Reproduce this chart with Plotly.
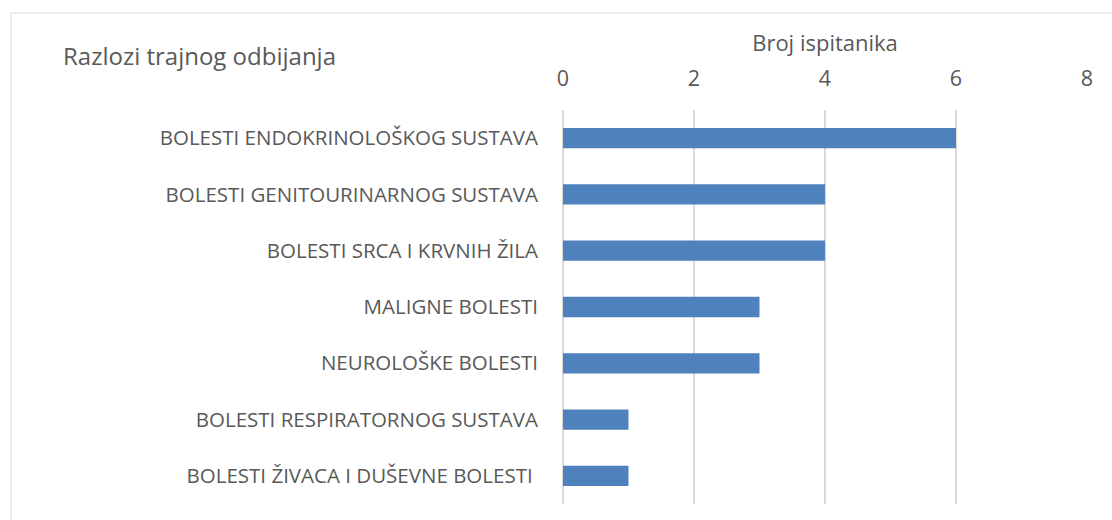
import plotly.graph_objects as go

categories = [
    "BOLESTI ENDOKRINOLOŠKOG SUSTAVA",
    "BOLESTI GENITOURINARNOG SUSTAVA",
    "BOLESTI SRCA I KRVNIH ŽILA",
    "MALIGNE BOLESTI",
    "NEUROLOŠKE BOLESTI",
    "BOLESTI RESPIRATORNOG SUSTAVA",
    "BOLESTI ŽIVACA I DUŠEVNE BOLESTI ",
]
values = [6, 4, 4, 3, 3, 1, 1]
tick_vals = [0, 2, 4, 6, 8]

W, H = 1112, 520
L, R, T, B = 563, 1087, 110, 504
pw, ph = R - L, B - T

def px(x):
    return (x - L) / pw

def py(y):
    return (B - y) / ph

FONT = "Open Sans"
GRAY = "#595959"

fig = go.Figure(go.Bar(
    x=values,
    y=categories,
    orientation="h",
    marker=dict(color="#4F81BD", line=dict(width=0)),
    width=0.36,
))

fig.update_layout(
    width=W, height=H,
    margin=dict(l=L, r=W - R, t=T, b=H - B, pad=0),
    paper_bgcolor="white",
    plot_bgcolor="white",
    showlegend=False,
    font=dict(family=FONT, color=GRAY, size=16),
    xaxis=dict(
        side="top",
        range=[0, 8],
        tickvals=tick_vals,
        showgrid=True,
        gridcolor="#D9D9D9",
        gridwidth=2,
        zeroline=True,
        zerolinecolor="#D9D9D9",
        zerolinewidth=2,
        showline=False,
        ticks="",
        ticklabelstandoff=19,
        tickfont=dict(size=21.5, color=GRAY, family=FONT),
        title=dict(text="Broj ispitanika", font=dict(size=22, color=GRAY, family=FONT), standoff=5),
        fixedrange=True,
    ),
    yaxis=dict(
        categoryorder="array",
        categoryarray=categories[::-1],
        showgrid=False,
        zeroline=False,
        showline=False,
        ticks="",
        ticklabelstandoff=24,
        tickfont=dict(size=20.5, color=GRAY, family=FONT),
        fixedrange=True,
    ),
    shapes=[dict(
        type="rect", xref="paper", yref="paper",
        x0=px(11), x1=px(1130), y0=py(540), y1=py(13),
        line=dict(color="#D9D9D9", width=1),
        fillcolor="rgba(0,0,0,0)", layer="below",
    )],
    annotations=[dict(
        text="Razlozi trajnog odbijanja",
        xref="paper", yref="paper",
        x=px(61), y=py(55),
        xanchor="left", yanchor="middle",
        showarrow=False,
        font=dict(size=24, color=GRAY, family=FONT),
    )],
)

fig.write_html("out.html")
